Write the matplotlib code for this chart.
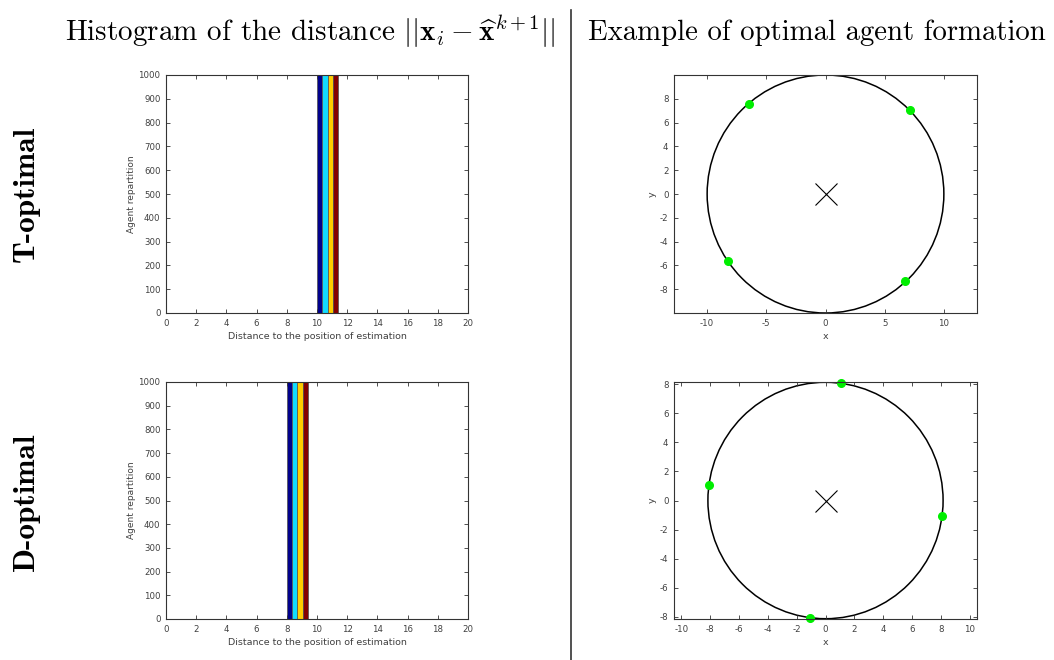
import matplotlib
matplotlib.use("Agg")
import matplotlib.pyplot as plt
import numpy as np
from matplotlib.patches import Circle

plt.rcParams.update(
    {
        "font.family": "DejaVu Sans",
        "mathtext.fontset": "cm",
        "axes.unicode_minus": False,
    }
)

# histogram data: 10 bins, 4 series (all agents fall in one bin)
bin_centers = [0.7, 2.7, 4.7, 6.7, 8.7, 10.7, 12.7, 14.7, 16.7, 18.7]
t_counts = [
    [0, 0, 0, 0, 0, 1000, 0, 0, 0, 0],
    [0, 0, 0, 0, 0, 1000, 0, 0, 0, 0],
    [0, 0, 0, 0, 0, 1000, 0, 0, 0, 0],
    [0, 0, 0, 0, 0, 1000, 0, 0, 0, 0],
]
d_counts = [
    [0, 0, 0, 0, 1000, 0, 0, 0, 0, 0],
    [0, 0, 0, 0, 1000, 0, 0, 0, 0, 0],
    [0, 0, 0, 0, 1000, 0, 0, 0, 0, 0],
    [0, 0, 0, 0, 1000, 0, 0, 0, 0, 0],
]
bar_colors = ["#00008c", "#12dcff", "#ffcc00", "#850000"]

# agent formations
t_radius = 10.0
t_agents_x = [-6.5, 7.1, -8.2, 6.7]
t_agents_y = [7.6, 7.05, -5.65, -7.35]
d_radius = 8.15
d_agents_x = [1.1, -8.1, 8.1, -1.1]
d_agents_y = [8.1, 1.1, -1.1, -8.1]
estimate = (0, 0)

W, H = 1054, 660
fig = plt.figure(figsize=(W / 100, H / 100), dpi=100)

TXT = "#404040"


def rect(l, t, r, b):
    return [l / W, 1 - b / H, (r - l) / W, (b - t) / H]


def style(ax):
    ax.tick_params(direction="in", top=True, right=True, labelsize=6.2,
                   length=3, width=0.6, colors="#333333", labelcolor=TXT,
                   pad=4)
    for s in ax.spines.values():
        s.set_linewidth(0.8)
        s.set_color("#333333")


def histogram(ax, counts):
    w = 0.35
    for i, c in enumerate(counts):
        x = np.array(bin_centers) + (i - 1.5) * w
        ax.bar(x, c, width=w, color=bar_colors[i], edgecolor="#555555",
               linewidth=0.55, clip_on=False)
    ax.set_xlim(0, 20)
    ax.set_ylim(0, 1000)
    ax.set_xticks(range(0, 21, 2))
    ax.set_yticks(range(0, 1001, 100))
    ax.set_xlabel("Distance to the position of estimation", fontsize=6.8,
                  color=TXT, labelpad=3)
    ax.set_ylabel("Agent repartition", fontsize=6.5, color=TXT, labelpad=2)
    style(ax)


def formation(ax, radius, ax_x, ax_y, xlim, ylim, xticks):
    ax.add_patch(Circle(estimate, radius, fill=False, color="black", lw=1.1))
    ax.plot(ax_x, ax_y, "o", color="#00ee00", markersize=5.5, clip_on=False)
    ax.plot(*estimate, "x", color="black", markersize=16, mew=0.8)
    ax.set_xlim(*xlim)
    ax.set_ylim(*ylim)
    ax.set_xticks(xticks)
    ax.set_yticks(range(-8, 9, 2))
    ax.set_xlabel("x", fontsize=6.8, color=TXT, labelpad=3)
    ax.set_ylabel("y", fontsize=6.8, color=TXT, labelpad=2)
    style(ax)


ax1 = fig.add_axes(rect(166, 75, 468, 313))
histogram(ax1, t_counts)
ax2 = fig.add_axes(rect(166, 382, 468, 619))
histogram(ax2, d_counts)

ax3 = fig.add_axes(rect(674, 75, 977, 313))
formation(ax3, t_radius, t_agents_x, t_agents_y, (-12.8, 12.8), (-10, 10),
          [-10, -5, 0, 5, 10])
ax4 = fig.add_axes(rect(674, 382, 977, 619))
formation(ax4, d_radius, d_agents_x, d_agents_y, (-10.5, 10.5), (-8.17, 8.17),
          range(-10, 11, 2))

# column headers
fig.text(310 / W, 1 - 40.5 / H,
         r"Histogram of the distance $||\mathbf{x}_i - \widehat{\mathbf{x}}^{k+1}||$",
         family="cmr10", fontsize=21, ha="center", va="baseline")
fig.text(817 / W, 1 - 40.5 / H, "Example of optimal agent formation",
         family="cmr10", fontsize=20.7, ha="center", va="baseline")

# row labels
fig.text(26 / W, 1 - 194 / H, "T-optimal", family="cmb10", fontsize=22.5,
         rotation=90, ha="center", va="center")
fig.text(26 / W, 1 - 502 / H, "D-optimal", family="cmb10", fontsize=22.5,
         rotation=90, ha="center", va="center")

fig.add_artist(plt.Line2D([571 / W, 571 / W], [0, 1 - 10 / H],
                          color="#333333", lw=1.2))

fig.savefig("out.png", dpi=100)
